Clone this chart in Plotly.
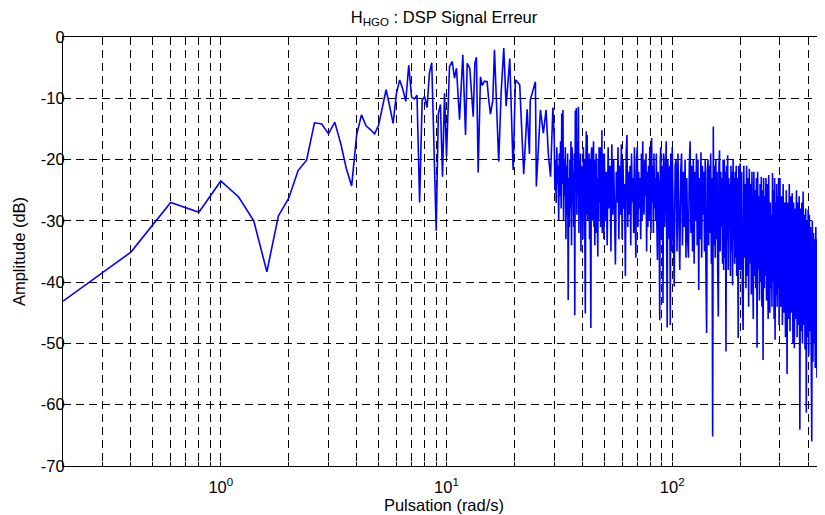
import numpy as np
import plotly.graph_objects as go

# ---- data ----
# low-frequency part (rad/s, dB)
omega_low = [0.2, 0.4, 0.6, 0.8, 1.0, 1.2, 1.4, 1.6, 1.8, 2.0, 2.2, 2.4, 2.6, 2.8, 3.0,
             3.2, 3.4, 3.6, 3.8, 4.0, 4.2, 4.4, 4.6, 4.8, 5.0, 5.2, 5.4, 5.6, 5.8, 6.0,
             6.2, 6.4, 6.6, 6.8, 7.0, 7.2, 7.4, 7.6, 7.8, 8.0, 8.2, 8.4, 8.6, 8.8, 9.0,
             9.2, 9.4, 9.6, 9.8, 10.0,
             10.31, 10.60, 10.85, 11.07, 11.42, 11.81, 12.14, 12.35, 12.68, 13.13,
             13.35, 13.57, 13.81, 14.14, 14.39, 14.73, 15.14, 15.34, 15.65, 16.03,
             16.31, 17.03, 17.46, 17.93, 18.37, 19.06, 19.73, 20.20, 21.10, 21.63,
             21.98, 22.76, 23.30, 23.5, 24.76, 25.0, 26.06, 26.85, 27.6, 28.3,
             28.9, 29.6]
amp_low = [-43.1, -35.1, -27.0, -28.6, -23.5, -26.1, -30.0, -38.3, -29.2, -26.3,
           -21.8, -20.1, -14.0, -14.2, -15.8, -13.9, -17.4, -21.5, -24.3, -15.9,
           -12.7, -14.5, -15.1, -15.8, -14.4, -11.5, -8.6, -11.3, -14.1, -9.2,
           -7.0, -8.5, -10.5, -4.6, -9.8, -10.1, -9.5, -27.0, -10.3, -9.7,
           -11.5, -5.9, -4.2, -18.0, -31.6, -12.5, -11.0, -22.8, -9.2, -19.5,
           -4.8, -4.0, -6.7, -5.1, -13.5, -2.9, -16.0, -4.3, -5.1, -13.0,
           -4.3, -3.3, -22.1, -6.5, -7.9, -7.2, -7.3, -9.8, -12.6, -10.4,
           -2.1, -20.3, -9.1, -1.8, -11.3, -3.5, -21.7, -7.0, -7.8, -16.7,
           -22.4, -11.8, -19.1, -10.3, -7.3, -24.4, -11.9, -15.7, -11.9, -19.5,
           -22.8, -11.5]

# dense part, sampled on regular frequency grids (start, step)
b1_start, b1_step = 30.0, 0.2
amp_b1 = [-16.3, -25, -20, -27.1, -18, -24, -21, -29.9, -19, -26,
          -17, -28, -12.5, -24, -11.9, -30, -20, -26, -18, -33,
          -21, -29, -19, -42.9, -23, -31, -20, -28, -17, -34,
          -18, -27, -22, -31, -19, -45.4, -12, -25, -11.6, -29,
          -17, -26, -11.4, -32, -20, -28, -19, -35, -21, -27,
          -22, -33, -18, -27, -20, -31, -45.1, -23, -15.4, -29,
          -16, -30, -21, -26, -19, -33, -20, -28, -47.5, -19,
          -18, -30, -24, -27, -17, -31, -20, -34, -22, -28,
          -19, -32, -23, -29, -35.8, -20, -30, -18, -27, -21,
          -18, -31, -22, -26, -15.2, -32, -20, -29, -19, -33]

b2_start, b2_step = 50.0, 0.5
amp_b2 = [-19, -30, -22, -34, -18, -28, -21, -35, -17.5, -29,
          -20, -31, -37.1, -22, -27, -18, -33, -21, -29, -17.5,
          -33, -20, -28, -24, -39, -19, -16, -31, -22, -29,
          -21, -34, -19, -27, -23, -32, -18, -29, -36, -20,
          -18, -31, -22, -28, -23, -33, -19, -30, -17, -27,
          -29, -20, -26, -19, -35, -22, -31, -21, -30, -18,
          -18, -32, -16.5, -27, -21, -32, -19, -28, -23, -30,
          -19, -31, -36.4, -22, -24, -29, -46.2, -20, -18, -33,
          -30, -21, -43.4, -19, -20, -31, -27, -22, -17, -34,
          -47.4, -20, -22, -30, -33, -21, -47, -19, -26, -35]

c1_start, c1_step = 100.0, 1.0
amp_c1 = [-18, -33, -40.7, -21, -20, -35, -19, -30, -38, -22,
          -19, -34, -22, -31, -20, -36, -23, -33, -36, -21,
          -17, -32, -21, -35, -20, -37, -22, -30, -19, -34,
          -20, -41.3, -23, -33, -18.8, -36, -21, -29, -22, -35,
          -20, -38, -48.3, -22, -20, -34, -21, -32, -19, -37,
          -23, -65.2, -14.6, -34, -21, -36, -20, -33, -22, -38,
          -45.6, -21, -18.5, -35, -22, -31, -23, -37, -20, -38,
          -20, -36, -22, -51.3, -21, -33, -19.3, -38, -23, -29,
          -24, -39, -21, -35, -22, -40.5, -20, -33, -23, -37,
          -22, -36, -21, -39, -23, -34, -49.1, -21, -25, -38]

c2_start, c2_step = 200.0, 1.5
amp_c2 = [-20.6, -38, -22, -42, -47.8, -21, -36, -24, -41, -21,
          -39, -23, -44, -21.5, -37, -24, -42, -22, -40, -46,
          -22, -39, -25, -41, -23, -50.7, -22, -38, -26, -43,
          -24, -40, -22.8, -44, -25, -52.7, -23, -41, -26, -39,
          -23, -43, -24, -40, -46, -22.5, -42, -45, -27, -41,
          -29, -44, -22.2, -40, -25, -46, -23, -49.4, -27, -42,
          -24, -44, -26, -41, -23, -47, -25]

c3_start, c3_step = 300.0, 2.5
amp_c3 = [-23, -44, -26, -47, -24, -45, -27, -49, -25, -55,
          -27, -46, -24, -48, -26, -45, -25.5, -50, -27, -50.8,
          -28, -46, -25, -49, -27, -47, -26, -64.1, -28, -48,
          -27, -50, -25.2, -47, -29, -51, -28, -61.3, -30, -49,
          -28.2, -52, -29, -48, -31, -50, -66, -30, -53, -32,
          -50, -33, -54, -31, -52, -55.6, -33, -50, -35, -53,
          -34, -55, -60.9, -35, -52, -36, -56, -34, -58.5, -38]

x_grid = [0.2, 0.3, 0.4, 0.5, 0.6, 0.7, 0.8, 0.9, 1, 2, 3, 4, 5, 6, 7, 8, 9,
          10, 20, 30, 40, 50, 60, 70, 80, 90, 100, 200, 300, 400]
x_labels = {1: "10<sup>0</sup>", 10: "10<sup>1</sup>", 100: "10<sup>2</sup>"}
y_ticks = [0, -10, -20, -30, -40, -50, -60, -70]

title_text = "H<sub>HGO</sub> : DSP Signal Erreur"
x_title = "Pulsation (rad/s)"
y_title = "Amplitude (dB)"

# ---- assemble series ----
def grid(start, step, vals):
    return list(np.round(start + step * np.arange(len(vals)), 3))

omega = (list(omega_low) + grid(b1_start, b1_step, amp_b1) + grid(b2_start, b2_step, amp_b2)
         + grid(c1_start, c1_step, amp_c1) + grid(c2_start, c2_step, amp_c2)
         + grid(c3_start, c3_step, amp_c3))
amp = amp_low + amp_b1 + amp_b2 + amp_c1 + amp_c2 + amp_c3

fig = go.Figure()
fig.add_trace(go.Scatter(x=omega, y=amp, mode="lines",
                         line=dict(color="#0000FF", width=1.6), hoverinfo="skip"))

# the page body adds an 8px offset, so the margins compensate for it
font_family = "Liberation Sans, Arial, Helvetica, sans-serif"
fs = 16.5
fig.update_layout(
    width=825, height=515,
    margin=dict(l=55, r=8, t=29, b=57),
    plot_bgcolor="white", paper_bgcolor="white",
    showlegend=False,
    font=dict(family=font_family, size=fs, color="black"),
    title=dict(text=title_text, x=0.5, xref="paper", xanchor="center",
               y=1 - 9 / 515, yref="container", yanchor="middle",
               font=dict(size=fs, color="black")),
)
fig.update_xaxes(
    type="log", range=[np.log10(0.2), np.log10(475)],
    tickmode="array", tickvals=x_grid,
    ticktext=[x_labels.get(v, "") for v in x_grid],
    showgrid=True, gridcolor="black", gridwidth=1, griddash="8px,5px",
    showline=True, linecolor="black", linewidth=1, mirror=True,
    ticks="inside", ticklen=4, tickcolor="black",
    zeroline=False, automargin=False, ticklabelstandoff=6,
    title=dict(text=x_title, standoff=2, font=dict(size=fs)),
    tickfont=dict(size=fs),
)
fig.update_yaxes(
    range=[-70, 0], tickmode="array", tickvals=y_ticks,
    ticktext=[str(v) for v in y_ticks],
    showgrid=True, gridcolor="black", gridwidth=1, griddash="8px,5px",
    showline=True, linecolor="black", linewidth=1, mirror=False,
    ticks="inside", ticklen=4, tickcolor="black",
    zeroline=False, automargin=False, ticklabelstandoff=-6,
    title=dict(text=y_title, standoff=11, font=dict(size=fs)),
    tickfont=dict(size=fs),
)

fig.write_html("out.html")
